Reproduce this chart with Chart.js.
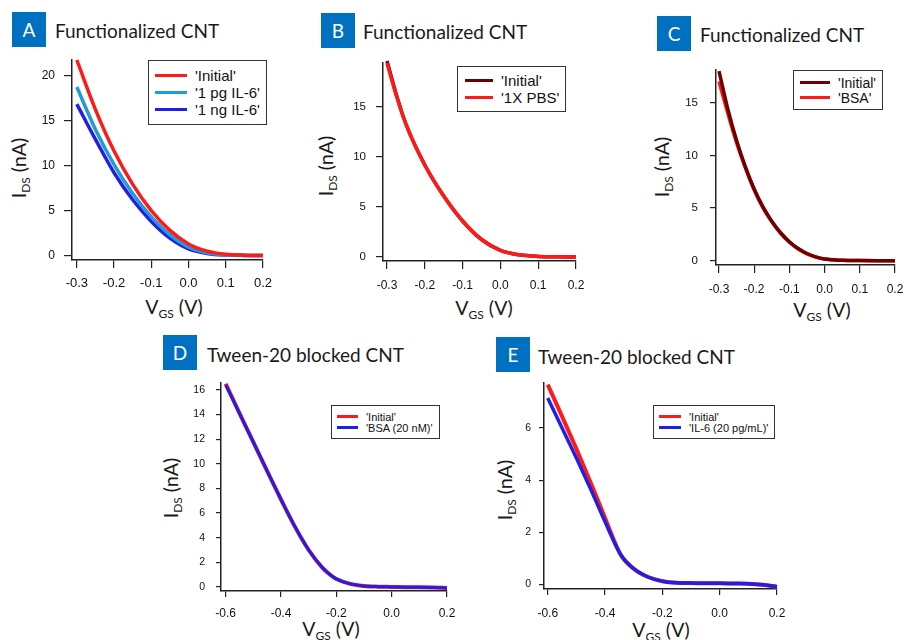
<!DOCTYPE html>
<html lang="en">
<head>
<meta charset="UTF-8"/>
<title>CNT transfer curves</title>
<script src="https://cdn.jsdelivr.net/npm/chart.js"></script>
<style>
    body { margin: 0; width: 904px; height: 640px; position: relative; overflow: hidden; background: #fff; font-family: 'Liberation Sans', Arial, sans-serif; }
    canvas { position: absolute; }
    .tag { position: absolute; width: 34px; height: 35px; background: #0070c0; color: #fff; font: 19px Lato, sans-serif; display: flex; align-items: center; justify-content: center; }
    .title { position: absolute; font: 19px Lato, sans-serif; color: #1a1a1a; line-height: 1; white-space: nowrap; }
    .axt { position: absolute; font: 19.5px Lato, sans-serif; color: #1a1a1a; white-space: nowrap; line-height: 1; transform: translate(-50%, -50%); }
    .axt.y { transform: translate(-50%, -50%) rotate(-90deg); }
    .axt sub { font-size: 12px; vertical-align: -4px; line-height: 0; }
    .legend { position: absolute; border: 1.5px solid #333; background: #fff; color: #111; white-space: nowrap; }
    .legend .row { display: flex; align-items: center; }
    .legend .swatch { display: inline-block; margin-right: 8px; }
</style>
</head>
<body>
<script>
    // ---- data ----
    const xTicksFunc = [-0.3, -0.2, -0.1, 0.0, 0.1, 0.2];
    const xTicksTween = [-0.6, -0.4, -0.2, 0.0, 0.2];
    const yTicksA = [0, 5, 10, 15, 20];
    const yTicksB = [0, 5, 10, 15];
    const yTicksC = [0, 5, 10, 15];
    const yTicksD = [0, 2, 4, 6, 8, 10, 12, 14, 16];
    const yTicksE = [0, 2, 4, 6];

    // A: functionalized CNT, IL-6
    const vgsA = [-0.30, -0.25, -0.20, -0.15, -0.10, -0.05, 0.00, 0.05, 0.10, 0.15, 0.20];
    const idsA_initial = [21.7, 16.2, 11.6, 7.9, 5.0, 2.8, 1.3, 0.5, 0.15, 0.05, 0.02];
    const idsA_1pg = [18.7, 14.0, 10.1, 6.9, 4.3, 2.3, 0.95, 0.32, 0.08, 0.03, 0.02];
    const idsA_1ng = [16.8, 12.9, 9.2, 6.2, 3.8, 1.95, 0.75, 0.25, 0.07, 0.03, 0.02];

    // B: functionalized CNT, PBS
    const vgsB = [-0.30, -0.275, -0.25, -0.20, -0.15, -0.10, -0.05, 0.00, 0.05, 0.10, 0.15, 0.20];
    const idsB_initial = [19.6, 16.2, 13.3, 9.2, 6.1, 3.6, 1.75, 0.67, 0.22, 0.06, 0.02, 0.01];
    const idsB_pbs = [19.4, 16.1, 13.3, 9.2, 6.1, 3.6, 1.75, 0.67, 0.22, 0.06, 0.02, 0.01];

    // C: functionalized CNT, BSA
    const vgsC = [-0.300, -0.275, -0.250, -0.225, -0.200, -0.175, -0.150, -0.125, -0.100, -0.075, -0.050, -0.025, 0.000, 0.050, 0.100, 0.150, 0.200];
    const idsC_initial = [18.0, 14.4, 11.4, 8.9, 6.8, 5.1, 3.75, 2.65, 1.8, 1.15, 0.68, 0.36, 0.16, 0.04, 0.01, 0.0, 0.0];
    const idsC_bsa = [17.0, 14.0, 11.2, 8.8, 6.7, 5.0, 3.7, 2.6, 1.75, 1.1, 0.65, 0.34, 0.15, 0.04, 0.01, 0.0, 0.0];

    // D: Tween-20 blocked, BSA
    const vgsD = [-0.60, -0.55, -0.50, -0.45, -0.40, -0.35, -0.30, -0.25, -0.22, -0.20, -0.15, -0.10, -0.05, 0.00, 0.05, 0.10, 0.15, 0.20];
    const idsD_initial = [16.5, 14.1, 11.75, 9.4, 7.1, 4.9, 3.0, 1.55, 0.95, 0.65, 0.25, 0.08, 0.02, 0.0, -0.02, -0.03, -0.05, -0.08];
    const idsD_bsa = [16.4, 14.1, 11.75, 9.4, 7.1, 4.9, 3.0, 1.55, 0.95, 0.65, 0.25, 0.08, 0.02, 0.0, -0.02, -0.03, -0.05, -0.08];

    // E: Tween-20 blocked, IL-6
    const vgsE = [-0.60, -0.55, -0.50, -0.45, -0.40, -0.345, -0.30, -0.25, -0.20, -0.15, -0.10, -0.05, 0.00, 0.05, 0.10, 0.15, 0.20];
    const idsE_initial = [7.67, 6.45, 5.2, 3.9, 2.55, 1.13, 0.6, 0.28, 0.12, 0.06, 0.05, 0.04, 0.04, 0.03, 0.02, -0.02, -0.09];
    const idsE_il6 = [7.15, 6.0, 4.85, 3.65, 2.4, 1.13, 0.6, 0.28, 0.12, 0.06, 0.05, 0.04, 0.04, 0.03, 0.02, -0.02, -0.09];

    const RED = '#ff1a1a', DARK = '#6e0000', CYAN = '#1f9bd7', BLUE = '#1f1fe8';

    const pts = (xs, ys) => xs.map((x, i) => ({ x: x, y: ys[i] }));

    // tick: [x tick length, x label pad, y tick length, y label pad]
    const panels = [
        { tag: 'A', tagPos: [12, 12], title: 'Functionalized CNT', titlePos: [55, 21],
          area: { left: 72, top: 60, w: 191, h: 200 }, x: [-0.313, 0.2], y: [-0.48, 21.7],
          xTicks: xTicksFunc, yTicks: yTicksA, xFont: 13, yFont: 12, lw: 3.5, tick: [8, 8, 8, 9],
          yTitle: [19, 168], xTitle: [174, 307],
          series: [
              { label: "'Initial'", color: RED, data: pts(vgsA, idsA_initial) },
              { label: "'1 pg IL-6'", color: CYAN, data: pts(vgsA, idsA_1pg) },
              { label: "'1 ng IL-6'", color: BLUE, data: pts(vgsA, idsA_1ng) }
          ],
          legend: { left: 148, top: 60, font: 15, rowH: 17, pad: '6px 6px 6px 6px', sw: 32, sh: 3.5 } },
        { tag: 'B', tagPos: [321, 13], title: 'Functionalized CNT', titlePos: [363, 22],
          area: { left: 383, top: 63, w: 193, h: 198 }, x: [-0.3106, 0.2], y: [-0.4, 19.4],
          xTicks: xTicksFunc, yTicks: yTicksB, xFont: 12, yFont: 11.5, lw: 3.5, tick: [8, 9, 7, 10],
          yTitle: [326, 166], xTitle: [484, 308],
          series: [
              { label: "'Initial'", color: DARK, data: pts(vgsB, idsB_initial), order: 2 },
              { label: "'1X PBS'", color: RED, data: pts(vgsB, idsB_pbs), order: 1 }
          ],
          legend: { left: 457, top: 66, font: 15, rowH: 17, pad: '5px 6px 5px 7px', sw: 28, sh: 3.5 } },
        { tag: 'C', tagPos: [657, 16], title: 'Functionalized CNT', titlePos: [700, 25],
          area: { left: 716, top: 70, w: 179, h: 195 }, x: [-0.3085, 0.2], y: [-0.41, 18.1],
          xTicks: xTicksFunc, yTicks: yTicksC, xFont: 12, yFont: 11.5, lw: 3.5, tick: [8, 9, 6, 12],
          yTitle: [662, 167], xTitle: [822, 310],
          series: [
              { label: "'Initial'", color: DARK, data: pts(vgsC, idsC_initial), order: 1 },
              { label: "'BSA'", color: RED, data: pts(vgsC, idsC_bsa), order: 2 }
          ],
          legend: { left: 793, top: 70, font: 14, rowH: 15, pad: '4px 6px 4px 6px', sw: 30, sh: 3.5 } },
        { tag: 'D', tagPos: [163, 335], title: 'Tween-20 blocked CNT', titlePos: [207, 345],
          area: { left: 221, top: 383, w: 226, h: 208 }, x: [-0.617, 0.2], y: [-0.33, 16.56],
          xTicks: xTicksTween, yTicks: yTicksD, xFont: 12, yFont: 10.5, lw: 3, tick: [6, 9, 5, 11],
          yTitle: [171, 488], xTitle: [331, 629],
          series: [
              { label: "'Initial'", color: RED, data: pts(vgsD, idsD_initial), order: 2, lw: 4 },
              { label: "'BSA (20 nM)'", color: BLUE, data: pts(vgsD, idsD_bsa), order: 1 }
          ],
          legend: { left: 331, top: 405, font: 11, rowH: 11, pad: '5px 6px 5px 5px', sw: 21, sh: 3.5 } },
        { tag: 'E', tagPos: [496, 337], title: 'Tween-20 blocked CNT', titlePos: [538, 347],
          area: { left: 544, top: 383, w: 233, h: 206 }, x: [-0.613, 0.2], y: [-0.18, 7.73],
          xTicks: xTicksTween, yTicks: yTicksE, xFont: 12, yFont: 10.5, lw: 3.5, tick: [6, 11, 5, 8],
          yTitle: [505, 490], xTitle: [661, 630],
          series: [
              { label: "'Initial'", color: RED, data: pts(vgsE, idsE_initial), order: 2, lw: 4 },
              { label: "'IL-6 (20 pg/mL)'", color: BLUE, data: pts(vgsE, idsE_il6), order: 1 }
          ],
          legend: { left: 653, top: 405, font: 11, rowH: 11, pad: '5px 6px 5px 5px', sw: 22, sh: 3.5 } }
    ];

    const YW = 40, XH = 34, PT = 8, PR = 12;

    function el(tag, cls, html) {
        const e = document.createElement(tag);
        if (cls) e.className = cls;
        if (html) e.innerHTML = html;
        document.body.appendChild(e);
        return e;
    }

    panels.forEach(p => {
        const tag = el('div', 'tag', p.tag);
        tag.style.left = p.tagPos[0] + 'px';
        tag.style.top = p.tagPos[1] + 'px';

        const t = el('div', 'title', p.title);
        t.style.left = p.titlePos[0] + 'px';
        t.style.top = p.titlePos[1] + 'px';

        const yt = el('div', 'axt y', 'I<sub>DS</sub> (nA)');
        yt.style.left = p.yTitle[0] + 'px';
        yt.style.top = p.yTitle[1] + 'px';
        const xt = el('div', 'axt', 'V<sub>GS</sub> (V)');
        xt.style.left = p.xTitle[0] + 'px';
        xt.style.top = p.xTitle[1] + 'px';

        const cv = el('canvas');
        cv.width = YW + p.area.w + PR;
        cv.height = PT + p.area.h + XH;
        cv.style.left = (p.area.left - YW) + 'px';
        cv.style.top = (p.area.top - PT) + 'px';

        const border = { display: true, color: '#222', width: 1.5 };

        new Chart(cv.getContext('2d'), {
            type: 'line',
            data: {
                datasets: p.series.map(s => ({
                    label: s.label,
                    data: s.data,
                    borderColor: s.color,
                    borderWidth: s.lw || p.lw,
                    pointRadius: 0,
                    fill: false,
                    cubicInterpolationMode: 'monotone',
                    clip: false,
                    order: s.order || 0
                }))
            },
            options: {
                responsive: false,
                animation: false,
                layout: { padding: { top: PT, right: PR, left: 0, bottom: 0 } },
                plugins: { legend: { display: false }, tooltip: { enabled: false } },
                scales: {
                    x: {
                        type: 'linear', min: p.x[0], max: p.x[1],
                        afterBuildTicks: s => { s.ticks = p.xTicks.map(v => ({ value: v })); },
                        afterFit: s => { s.height = XH; s.paddingLeft = 0; s.paddingRight = 0; },
                        grid: { drawOnChartArea: false, drawTicks: true, tickLength: p.tick[0], color: '#222', lineWidth: 1.2 },
                        border: border,
                        ticks: { color: '#111', padding: p.tick[1], autoSkip: false, maxRotation: 0,
                                 font: { family: 'Liberation Sans', size: p.xFont },
                                 callback: v => v.toFixed(1) }
                    },
                    y: {
                        type: 'linear', min: p.y[0], max: p.y[1],
                        afterBuildTicks: s => { s.ticks = p.yTicks.map(v => ({ value: v })); },
                        afterFit: s => { s.width = YW; s.paddingTop = 0; s.paddingBottom = 0; },
                        grid: { drawOnChartArea: false, drawTicks: true, tickLength: p.tick[2], color: '#222', lineWidth: 1.2 },
                        border: border,
                        ticks: { color: '#111', padding: p.tick[3], autoSkip: false,
                                 font: { family: 'Liberation Sans', size: p.yFont },
                                 callback: v => String(v) }
                    }
                }
            }
        });

        // legend box
        const lg = el('div', 'legend');
        lg.style.left = p.legend.left + 'px';
        lg.style.top = p.legend.top + 'px';
        lg.style.padding = p.legend.pad;
        lg.style.fontSize = p.legend.font + 'px';
        p.series.forEach(s => {
            const row = document.createElement('div');
            row.className = 'row';
            row.style.height = p.legend.rowH + 'px';
            const sw = document.createElement('span');
            sw.className = 'swatch';
            sw.style.width = p.legend.sw + 'px';
            sw.style.height = p.legend.sh + 'px';
            sw.style.background = s.color;
            const tx = document.createElement('span');
            tx.textContent = s.label;
            row.appendChild(sw);
            row.appendChild(tx);
            lg.appendChild(row);
        });
    });
</script>
</body>
</html>
